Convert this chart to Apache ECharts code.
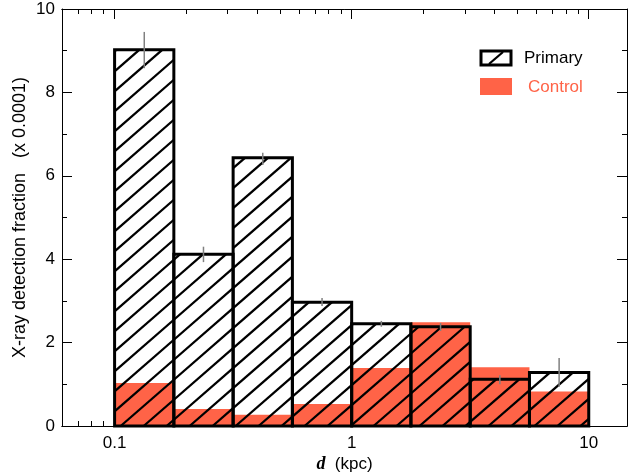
<!DOCTYPE html>
<html><head><meta charset="utf-8">
<script src="https://cdn.jsdelivr.net/npm/echarts@6/dist/echarts.min.js"></script>
<style>html,body{margin:0;padding:0;background:#fff}#c{width:630px;height:476px}</style>
</head><body><div id="c"></div>
<script>
// bin edges in kpc (log-spaced bins)
const binEdges = [0.1, 0.1778, 0.3162, 0.5623, 1.0, 1.778, 3.162, 5.623, 10.0];
// detection fraction (x 0.0001)
const primary = [9.02, 4.12, 6.43, 2.97, 2.45, 2.38, 1.12, 1.28];
const control = [1.03, 0.41, 0.27, 0.53, 1.39, 2.49, 1.41, 0.83];
// error bar positions and extents for primary
const errX = [0.1334, 0.2371, 0.4217, 0.750, 1.334, 2.371, 4.217, 7.50];
const errLow = [8.58, 3.93, 6.26, 2.88, 2.38, 2.28, 1.00, 0.94];
const errHigh = [9.45, 4.30, 6.55, 3.07, 2.52, 2.47, 1.22, 1.63];
// tick values
const xMajorTicks = [0.1, 1, 10];
const xMinorTicks = [0.07, 0.08, 0.09, 0.2, 0.3, 0.4, 0.5, 0.6, 0.7, 0.8, 0.9, 2, 3, 4, 5, 6, 7, 8, 9];

const RED = '#ff6347';
const FONT = '"Liberation Sans", Arial, Helvetica, sans-serif';

const primaryData = primary.map((v, i) => [binEdges[i], binEdges[i + 1], v]);
const controlData = control.map((v, i) => [binEdges[i], binEdges[i + 1], v]);
const errData = errX.map((x, i) => [x, errLow[i], errHigh[i]]);

function xAxisBase(extra) {
  return Object.assign({
    type: 'log', logBase: 10, min: 0.06, max: 14.5,
    axisLine: { show: true, lineStyle: { color: '#000', width: 1 } },
    splitLine: { show: false },
    axisLabel: { show: false },
  }, extra);
}

const chart = echarts.init(document.getElementById('c'), null, { renderer: 'canvas' });
chart.setOption({
  animation: false,
  backgroundColor: '#fff',
  grid: { left: 62, right: 3, top: 9, bottom: 50, containLabel: false, outerBoundsMode: 'none' },
  xAxis: [
    xAxisBase({
      position: 'bottom',
      axisTick: { show: true, inside: true, length: 10, customValues: xMajorTicks, lineStyle: { color: '#000', width: 1 } },
      axisLabel: { show: true, customValues: xMajorTicks, margin: 9, color: '#000', fontSize: 17, fontFamily: FONT,
        formatter: v => String(v) },
      name: '{d|d}  (kpc)', nameLocation: 'middle', nameGap: 38, nameMoveOverlap: false,
      nameTextStyle: { color: '#000', fontSize: 17, fontFamily: FONT, verticalAlign: 'middle',
        rich: { d: { fontFamily: '"Liberation Serif", "Times New Roman", serif', fontStyle: 'italic', fontWeight: 'bold', fontSize: 18, color: '#000' } } }
    }),
    xAxisBase({
      position: 'bottom',
      axisTick: { show: true, inside: true, length: 5, customValues: xMinorTicks, lineStyle: { color: '#000', width: 1 } }
    }),
    xAxisBase({
      position: 'top',
      axisTick: { show: true, inside: true, length: 10, customValues: xMajorTicks, lineStyle: { color: '#000', width: 1 } }
    }),
    xAxisBase({
      position: 'top',
      axisTick: { show: true, inside: true, length: 5, customValues: xMinorTicks, lineStyle: { color: '#000', width: 1 } }
    })
  ],
  yAxis: [
    {
      type: 'value', min: 0, max: 10, interval: 2, position: 'left',
      axisLine: { show: true, lineStyle: { color: '#000', width: 1 } },
      axisTick: { show: true, inside: true, length: 10, lineStyle: { color: '#000', width: 1 } },
      minorTick: { show: true, splitNumber: 2, length: 5, lineStyle: { color: '#000', width: 1 } },
      splitLine: { show: false },
      axisLabel: { show: true, margin: 7, color: '#000', fontSize: 17, fontFamily: FONT },
      name: 'X-ray detection fraction   (x 0.0001)', nameLocation: 'middle', nameGap: 42, nameMoveOverlap: false,
      nameTextStyle: { color: '#000', fontSize: 18, fontFamily: FONT, verticalAlign: 'middle' }
    },
    {
      type: 'value', min: 0, max: 10, interval: 2, position: 'right',
      axisLine: { show: true, lineStyle: { color: '#000', width: 1 } },
      axisTick: { show: true, inside: true, length: 10, lineStyle: { color: '#000', width: 1 } },
      minorTick: { show: true, splitNumber: 2, length: 5, lineStyle: { color: '#000', width: 1 } },
      splitLine: { show: false },
      axisLabel: { show: false }
    }
  ],
  graphic: [
    { type: 'rect', shape: { x: 481, y: 51, width: 30, height: 14 }, style: { fill: '#fff', stroke: '#000', lineWidth: 3 }, z: 100 },
    { type: 'line', shape: { x1: 489, y1: 64, x2: 503, y2: 52 }, style: { stroke: '#000', lineWidth: 2.3 }, z: 100 },
    { type: 'text', x: 524, y: 58, style: { text: 'Primary', fill: '#000', font: '17px ' + FONT, textVerticalAlign: 'middle' }, z: 100 },
    { type: 'rect', shape: { x: 480, y: 78, width: 32, height: 17 }, style: { fill: RED }, z: 100 },
    { type: 'text', x: 528, y: 87, style: { text: 'Control', fill: RED, font: '17px ' + FONT, textVerticalAlign: 'middle' }, z: 100 }
  ],
  series: [
    {
      type: 'custom', name: 'Control', xAxisIndex: 0, yAxisIndex: 0, z: 1, silent: true,
      encode: { x: [0, 1], y: 2 },
      data: controlData,
      renderItem(params, api) {
        const p0 = api.coord([api.value(0), api.value(2)]);
        const p1 = api.coord([api.value(1), 0]);
        return { type: 'rect', shape: { x: p0[0], y: p0[1], width: p1[0] - p0[0], height: p1[1] - p0[1] }, style: { fill: RED } };
      }
    },
    {
      type: 'custom', name: 'Primary', xAxisIndex: 0, yAxisIndex: 0, z: 2, silent: true,
      encode: { x: [0, 1], y: 2 },
      data: primaryData,
      renderItem(params, api) {
        const p0 = api.coord([api.value(0), api.value(2)]);
        const p1 = api.coord([api.value(1), 0]);
        const x0 = p0[0], y0 = p0[1], x1 = p1[0], y1 = p1[1];
        const s = 20, k = 0.87, phase = 11;
        const children = [];
        let c = Math.floor((y0 + k * x0 - phase) / s) * s + phase;
        for (; c <= y1 + k * x1; c += s) {
          const xs = Math.max(x0, (c - y1) / k), xe = Math.min(x1, (c - y0) / k);
          if (xe > xs) children.push({ type: 'line', shape: { x1: xs, y1: c - k * xs, x2: xe, y2: c - k * xe }, style: { stroke: '#000', lineWidth: 2.3 } });
        }
        children.push({ type: 'rect', shape: { x: x0, y: y0, width: x1 - x0, height: y1 - y0 }, style: { fill: null, stroke: '#000', lineWidth: 3 } });
        return { type: 'group', children };
      }
    },
    {
      type: 'custom', name: 'Error', xAxisIndex: 0, yAxisIndex: 0, z: 3, silent: true,
      encode: { x: 0, y: [1, 2] },
      data: errData,
      renderItem(params, api) {
        const a = api.coord([api.value(0), api.value(1)]);
        const b = api.coord([api.value(0), api.value(2)]);
        return { type: 'line', shape: { x1: a[0], y1: a[1], x2: b[0], y2: b[1] }, style: { stroke: '#808080', lineWidth: 1.5 } };
      }
    }
  ]
});
</script>
</body></html>
